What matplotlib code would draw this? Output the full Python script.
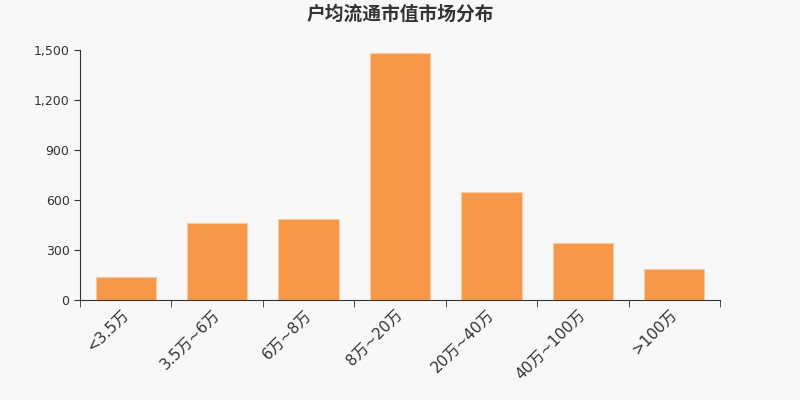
import matplotlib
matplotlib.use('Agg')
import matplotlib.pyplot as plt
import matplotlib.transforms as mtransforms
from matplotlib.ticker import FuncFormatter, FixedLocator

plt.rcParams['font.family'] = ['DejaVu Sans', 'Noto Sans CJK SC']

categories = ['<3.5万', '3.5万~6万', '6万~8万', '8万~20万', '20万~40万', '40万~100万', '>100万']
counts = [140, 464, 488, 1484, 646, 342, 186]
y_ticks = [0, 300, 600, 900, 1200, 1500]

bg = '#f8f8f8'
bar_color = '#f79849'
text_color = '#333333'

fig = plt.figure(figsize=(8, 4), dpi=100, facecolor=bg)
ax = fig.add_axes([0.1, 0.25, 0.8, 0.625], facecolor=bg)

x = list(range(len(categories)))
ax.bar(x, counts, width=0.66, color=bar_color, edgecolor='#fbc9a0', linewidth=0.8)

ax.set_xlim(-0.5, len(categories) - 0.5)
ax.set_ylim(0, 1500)
ax.set_yticks(y_ticks)
ax.yaxis.set_major_formatter(FuncFormatter(lambda v, p: f'{int(v):,}'))

ax.set_xticks(x)
ax.set_xticklabels(categories, rotation=45, ha='right', rotation_mode='anchor',
                   fontsize=11, color=text_color)
ax.xaxis.set_minor_locator(FixedLocator([i - 0.5 for i in range(len(categories) + 1)]))
ax.tick_params(axis='x', which='major', length=0, pad=5)
ax.tick_params(axis='x', which='minor', length=5, color=text_color)
ax.tick_params(axis='y', length=4, color=text_color, labelsize=9, labelcolor=text_color)

# nudge rotated labels a bit to the left
shift = mtransforms.ScaledTranslation(-5 / 100, 0, fig.dpi_scale_trans)
for lab in ax.get_xticklabels():
    lab.set_transform(lab.get_transform() + shift)

for side in ['top', 'right']:
    ax.spines[side].set_visible(False)
for side in ['left', 'bottom']:
    ax.spines[side].set_color(text_color)

fig.text(0.5, 0.965, '户均流通市值市场分布', ha='center', va='center',
         fontsize=13.5, fontweight='bold', color=text_color,
         family=['Noto Sans CJK SC', 'DejaVu Sans'])

fig.savefig('out.png', dpi=100, facecolor=bg)
